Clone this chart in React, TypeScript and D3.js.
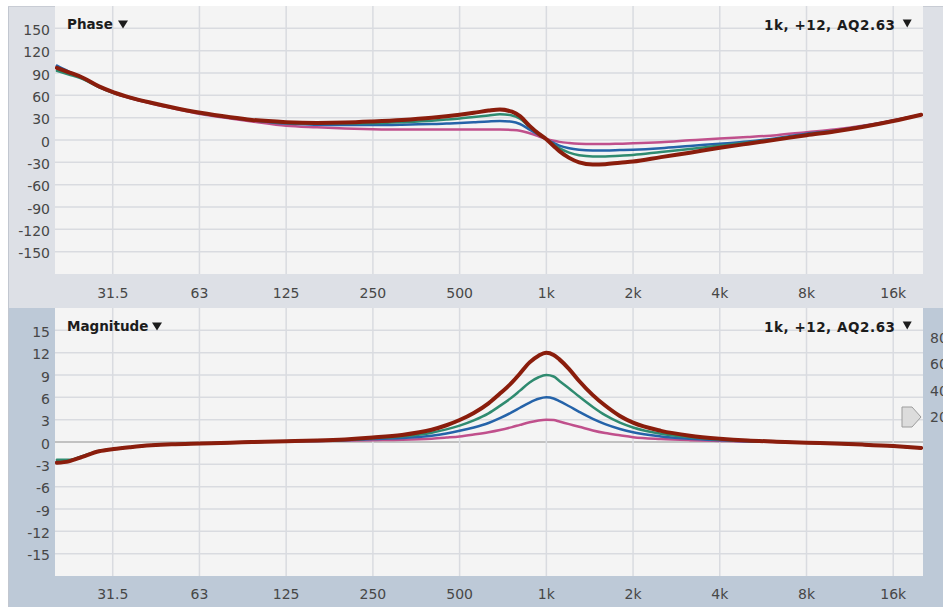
import React from "react";
import * as d3 from "d3";

// Shared frequency grid (Hz) for all measured traces
const freqs = [
  20, 22, 24.5, 28, 31.5, 36, 42.5, 50, 63, 80, 95, 125, 160, 200, 250, 315, 400, 450, 500, 560,
  630, 690, 760, 810, 875, 940, 1000, 1060, 1110, 1200, 1300, 1450, 1600, 1800, 2000, 2500, 3150,
  4000, 5000, 6300, 8000, 10000, 12500, 16000, 20000,
];

// Phase (degrees) for the +3, +6, +9 and +12 dB bell settings
const phase3 = [
  96, 90, 83, 71, 63, 56, 49, 43, 35, 29, 25, 19, 17, 15.5, 14.5, 14, 14, 14, 14, 14, 14, 14, 13.5,
  12.5, 9, 5, 1.5, -1, -2.5, -4, -5, -5.5, -5.5, -5, -4.5, -3, -0.5, 2, 4, 6.5, 10.5, 14, 19, 26.5, 34,
];
const phase6 = [
  100, 92, 84, 72, 64, 57, 50, 44, 36, 30, 26.5, 22, 20.5, 20, 20, 20.5, 21.5, 22, 23, 24, 25, 25.5,
  24.5, 21.5, 14, 7, 1, -4, -7.5, -11, -13, -14, -14, -13.5, -13, -11, -8, -5, -2, 2.5, 8.5, 12.5,
  18.5, 26, 34,
];
const phase9 = [
  93, 88, 82, 71, 63, 56.5, 49.5, 43.5, 36, 30.5, 27, 23, 22, 22, 22.5, 24, 26, 27.5, 29, 31, 33,
  34.5, 33, 28.5, 17.5, 8, 1, -6, -11, -17, -20.5, -22, -22, -21, -20, -16, -12, -7.5, -3.5, 1.5, 7.5,
  12, 18, 26, 34,
];
const phase12 = [
  97, 91, 84, 72, 64, 57, 50, 44, 36.5, 30.5, 27, 24, 23, 23.5, 25, 27, 30, 32, 34, 36.5, 39.5, 41,
  38, 32, 19, 8.5, 1, -8, -15, -24, -30, -33, -32.5, -30.5, -29, -23, -17, -10.5, -5, 0.5, 6.5, 11.5,
  17.5, 25.5, 34,
];

// Magnitude (dB) for the same settings
const mag3 = [
  -2.7, -2.55, -2.0, -1.25, -0.95, -0.7, -0.45, -0.3, -0.2, -0.1, 0, 0.1, 0.15, 0.2, 0.25, 0.3, 0.45,
  0.6, 0.75, 1.0, 1.3, 1.6, 2.0, 2.3, 2.65, 2.9, 3.0, 2.95, 2.75, 2.4, 2.05, 1.55, 1.2, 0.9, 0.65, 0.4,
  0.25, 0.15, 0.05, 0.0, -0.1, -0.2, -0.35, -0.55, -0.8,
];
const mag6 = [
  -2.6, -2.5, -1.95, -1.25, -0.95, -0.7, -0.45, -0.3, -0.2, -0.1, 0, 0.1, 0.15, 0.25, 0.4, 0.55, 0.85,
  1.15, 1.5, 1.95, 2.55, 3.2, 4.0, 4.6, 5.3, 5.8, 6.0, 5.85, 5.5, 4.8, 4.05, 3.1, 2.4, 1.75, 1.3,
  0.75, 0.45, 0.25, 0.1, 0.03, -0.1, -0.2, -0.35, -0.55, -0.8,
];
const mag9 = [
  -2.4, -2.4, -1.9, -1.2, -0.95, -0.7, -0.45, -0.3, -0.2, -0.1, 0, 0.1, 0.2, 0.3, 0.5, 0.75, 1.25,
  1.7, 2.2, 2.9, 3.85, 4.85, 6.0, 6.9, 8.0, 8.7, 9.0, 8.8, 8.2, 7.2, 6.1, 4.7, 3.6, 2.6, 1.95, 1.1, 0.65,
  0.35, 0.15, 0.05, -0.1, -0.2, -0.35, -0.55, -0.8,
];
const mag12 = [
  -2.8, -2.6, -2.0, -1.25, -0.95, -0.7, -0.45, -0.3, -0.2, -0.1, 0, 0.1, 0.2, 0.35, 0.6, 0.95, 1.65,
  2.25, 2.95, 3.9, 5.2, 6.5, 8.0, 9.2, 10.7, 11.6, 12.0, 11.7, 11.1, 9.8, 8.2, 6.3, 4.9, 3.5, 2.6, 1.5,
  0.85, 0.45, 0.2, 0.05, -0.1, -0.2, -0.35, -0.55, -0.8,
];

const phaseSeries = [phase3, phase6, phase9, phase12];
const magSeries = [mag3, mag6, mag9, mag12];
const seriesColors = ["#c0508c", "#2563a9", "#2f8b70", "#8a1d0c"];
const seriesWidths = [2.5, 2.5, 2.5, 4];

const phaseTicks = [-150, -120, -90, -60, -30, 0, 30, 60, 90, 120, 150];
const magTicks = [-15, -12, -9, -6, -3, 0, 3, 6, 9, 12, 15];
const octaveFreqs = [31.25, 62.5, 125, 250, 500, 1000, 2000, 4000, 8000, 16000];
const octaveLabels = ["31.5", "63", "125", "250", "500", "1k", "2k", "4k", "8k", "16k"];
const levelTicks = [80, 60, 40, 20];
const filterLabel = "1k, +12, AQ2.63";

const W = 943;
const H = 607;
const PL = 55;
const PR = 923;
const TOP_T = 6;
const TOP_B = 274;
const BOT_T = 308;
const BOT_B = 576;

const x = d3.scaleLog().domain([19.7, 20300]).range([PL, PR]);
const yPhase = d3.scaleLinear().domain([-180, 180]).range([TOP_B, TOP_T]);
const yMag = d3.scaleLinear().domain([-18, 18]).range([BOT_B, BOT_T]);
const yLevel = d3.scaleLinear().domain([20, 80]).range([417, 337.5]);

const FONT = "DejaVu Sans";
const tickFill = "#474747";
const gridColor = "#d9dbe0";

function makePath(values: number[], y: d3.ScaleLinear<number, number>) {
  const line = d3
    .line<number>()
    .x((_, i) => x(freqs[i]))
    .y((v) => y(v))
    .curve(d3.curveMonotoneX);
  return line(values) || "";
}

function Panel({
  top,
  bottom,
  y,
  ticks,
  series,
  title,
  titleW,
  clipId,
  zeroLine,
  labelY,
}: {
  top: number;
  bottom: number;
  y: d3.ScaleLinear<number, number>;
  ticks: number[];
  series: number[][];
  title: string;
  titleW: number;
  clipId: string;
  zeroLine: boolean;
  labelY: number;
}) {
  const hb = top + 23;
  return (
    <g>
      <rect x={PL} y={top} width={PR - PL} height={bottom - top} fill="#f4f4f4" />
      {ticks.map((t) => (
        <line
          key={"h" + t}
          x1={PL}
          x2={PR}
          y1={y(t)}
          y2={y(t)}
          stroke={zeroLine && t === 0 ? "#8e8e8e" : gridColor}
          strokeWidth={zeroLine && t === 0 ? 1.2 : 1.5}
        />
      ))}
      {octaveFreqs.map((f) => (
        <line key={"v" + f} x1={x(f)} x2={x(f)} y1={top} y2={bottom} stroke={gridColor} strokeWidth={1.5} />
      ))}
      <defs>
        <clipPath id={clipId}>
          <rect x={PL} y={top} width={PR - PL} height={bottom - top} />
        </clipPath>
      </defs>
      <g clipPath={`url(#${clipId})`}>
        {series.map((s, i) => (
          <path
            key={i}
            d={makePath(s, y)}
            fill="none"
            stroke={seriesColors[i]}
            strokeWidth={seriesWidths[i]}
            strokeLinejoin="round"
            strokeLinecap="round"
          />
        ))}
      </g>
      {ticks.map((t) => (
        <text key={"t" + t} x={50} y={y(t) + 6.6} textAnchor="end" fontSize={14} fill={tickFill} fontFamily={FONT}>
          {t}
        </text>
      ))}
      {octaveFreqs.map((f, i) => (
        <text key={"l" + f} x={x(f)} y={labelY} textAnchor="middle" fontSize={14} fill={tickFill} fontFamily={FONT}>
          {octaveLabels[i]}
        </text>
      ))}
      <text x={67} y={hb} fontSize={13.5} fontWeight="bold" fill="#1c1c1c" fontFamily={FONT}>
        {title}
      </text>
      <path d={`M${67 + titleW + 4},${hb - 8.5}h10l-5,8z`} fill="#1c1c1c" />
      <text
        x={895}
        y={hb + 0.5}
        textAnchor="end"
        fontSize={13.5}
        fontWeight="bold"
        fill="#1c1c1c"
        fontFamily={FONT}
        textLength={131}
        lengthAdjust="spacing"
      >
        {filterLabel}
      </text>
      <path d={`M902.7,${hb - 9.5}h9l-4.5,8z`} fill="#1c1c1c" />
    </g>
  );
}

export default function App() {
  return (
    <svg
      width={W}
      height={H}
      viewBox={`0 0 ${W} ${H}`}
      style={{ position: "absolute", left: 0, top: 0, display: "block" }}
    >
      <rect x={0} y={0} width={W} height={H} fill="#ffffff" />
      <rect x={8} y={TOP_T} width={W - 8} height={BOT_T - TOP_T} fill="#dde0e6" />
      <rect x={8} y={BOT_T} width={W - 8} height={H - BOT_T} fill="#bdc9d7" />
      <line x1={8.5} x2={8.5} y1={TOP_T} y2={H} stroke="#c2c7d0" strokeWidth={1} />
      <line x1={8} x2={W} y1={TOP_T + 0.5} y2={TOP_T + 0.5} stroke="#c8ccd4" strokeWidth={1} />

      <Panel
        top={TOP_T}
        bottom={TOP_B}
        y={yPhase}
        ticks={phaseTicks}
        series={phaseSeries}
        title="Phase"
        titleW={47}
        clipId="clip-phase"
        zeroLine={false}
        labelY={297.5}
      />
      <Panel
        top={BOT_T}
        bottom={BOT_B}
        y={yMag}
        ticks={magTicks}
        series={magSeries}
        title="Magnitude"
        titleW={81}
        clipId="clip-mag"
        zeroLine={true}
        labelY={598.5}
      />

      {/* level scale on the right edge, running past the window like the app's side ruler */}
      {levelTicks.map((t) => (
        <text key={"lv" + t} x={930} y={yLevel(t) + 5} fontSize={14} fill={tickFill} fontFamily={FONT}>
          {t}
        </text>
      ))}
      <path
        d={`M902,${yLevel(20) - 10}h10l9,10l-9,10h-10z`}
        fill="#dcdcdc"
        stroke="#9c9c9c"
        strokeWidth={1}
      />
    </svg>
  );
}
